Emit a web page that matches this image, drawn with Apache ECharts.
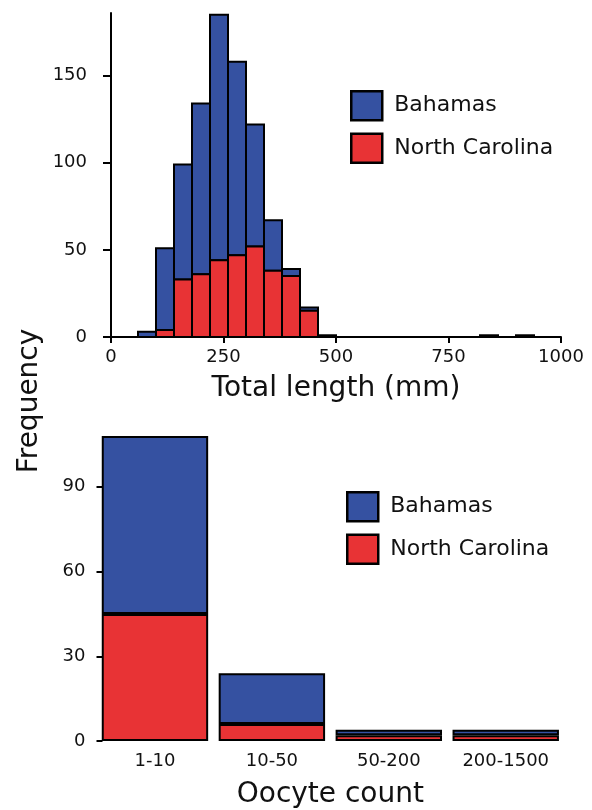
<!DOCTYPE html>
<html>
<head>
<meta charset="utf-8">
<script src="https://cdn.jsdelivr.net/npm/echarts@6/dist/echarts.min.js"></script>
<style>html,body{margin:0;padding:0;background:#fff}#c{width:592px;height:810px}</style>
</head>
<body>
<div id="c"></div>
<script>
// ---- Top histogram: Total length (mm), bins of 40 mm ----
var binStarts = [60, 100, 140, 180, 220, 260, 300, 340, 380, 420, 460, 820, 900];
var binWidth = 40;
var lengthBahamas = [3, 47, 66, 98, 141, 111, 70, 29, 4, 2, 1, 1, 1];
var lengthNC      = [0, 4, 33, 36, 44, 47, 52, 38, 35, 15, 0, 0, 0];
var lengthTicks = [0, 250, 500, 750, 1000];
var freqTicksTop = [0, 50, 100, 150];

// ---- Bottom bar chart: Oocyte count ----
var oocyteCats = ['1-10', '10-50', '50-200', '200-1500'];
var oocyteBahamas = [63, 18, 2, 2];
var oocyteNC      = [45, 6, 2, 2];
var freqTicksBottom = [0, 30, 60, 90];

var BLUE = '#3551a1';
var RED = '#e83335';
var FONT = 'DejaVu Sans';
var TXT = '#111';

// build histogram rect data: [x0, x1, yBase, yTop]
var ncData = [], bhData = [];
for (var i = 0; i < binStarts.length; i++) {
  var x0 = binStarts[i], x1 = binStarts[i] + binWidth;
  if (lengthNC[i] > 0) ncData.push([x0, x1, 0, lengthNC[i]]);
  if (lengthBahamas[i] > 0) bhData.push([x0, x1, lengthNC[i], lengthNC[i] + lengthBahamas[i]]);
}
function makeRender(color) {
  return function (params, api) {
    var p0 = api.coord([api.value(0), api.value(2)]);
    var p1 = api.coord([api.value(1), api.value(3)]);
    return {
      type: 'rect',
      shape: { x: p0[0], y: p1[1], width: p1[0] - p0[0], height: p0[1] - p1[1] },
      style: { fill: color, stroke: '#000', lineWidth: 2 }
    };
  };
}

var chart = echarts.init(document.getElementById('c'), null, { renderer: 'canvas' });
var legendCommon = {
  orient: 'vertical',
  icon: 'rect',
  padding: 0,
  itemWidth: 31,
  itemHeight: 29,
  itemGap: 11,
  itemStyle: { borderColor: '#000', borderWidth: 2.5 },
  textStyle: { fontFamily: FONT, fontSize: 22, color: TXT, padding: [0, 0, 0, 7] },
  data: ['Bahamas', 'North Carolina'],
  selectedMode: false
};
var option = {
  animation: false,
  backgroundColor: '#fff',
  legend: [
    Object.assign({}, legendCommon, { left: 350, top: 90 }),
    Object.assign({}, legendCommon, { left: 346, top: 491 })
  ],
  grid: [
    { left: 111, top: 13, width: 450, height: 324 },
    { left: 96.5, top: 402, right: 27.8, height: 343 }
  ],
  xAxis: [
    {
      type: 'value', gridIndex: 0, min: 0, max: 1000, interval: 250,
      splitLine: { show: false },
      axisLine: { show: true, lineStyle: { color: '#000', width: 2 } },
      axisTick: { show: true, length: 6, lineStyle: { color: '#000', width: 2 } },
      axisLabel: { fontFamily: FONT, fontSize: 18, color: TXT, margin: 11, customValues: lengthTicks,
        formatter: function (v) { return String(v); } },
      name: 'Total length (mm)', nameLocation: 'middle', nameGap: 38,
      nameTextStyle: { fontFamily: FONT, fontSize: 28, color: TXT }
    },
    {
      type: 'category', gridIndex: 1, data: oocyteCats,
      axisLine: { show: false }, axisTick: { show: false },
      axisLabel: { fontFamily: FONT, fontSize: 18, color: TXT, margin: 11 },
      name: 'Oocyte count', nameLocation: 'middle', nameGap: 40,
      nameTextStyle: { fontFamily: FONT, fontSize: 28, color: TXT }
    }
  ],
  yAxis: [
    {
      type: 'value', gridIndex: 0, min: 0, max: 186,
      splitLine: { show: false },
      axisLine: { show: true, lineStyle: { color: '#000', width: 2 } },
      axisTick: { show: true, length: 8, lineStyle: { color: '#000', width: 2 }, customValues: freqTicksTop },
      axisLabel: { fontFamily: FONT, fontSize: 18, color: TXT, margin: 24, customValues: freqTicksTop }
    },
    {
      type: 'value', gridIndex: 1, min: 0, max: 120, interval: 30,
      splitLine: { show: false },
      axisLine: { show: false },
      axisTick: { show: true, inside: true, length: 6, lineStyle: { color: '#000', width: 2 }, customValues: freqTicksBottom },
      axisLabel: { fontFamily: FONT, fontSize: 18, color: TXT, margin: 11, customValues: freqTicksBottom }
    }
  ],
  graphic: [{
    type: 'text', x: 30, y: 401, rotation: Math.PI / 2,
    style: { text: 'Frequency', fontFamily: FONT, fontSize: 28, fill: TXT, align: 'center', verticalAlign: 'middle' }
  }],
  series: [
    {
      name: 'Bahamas', type: 'custom', xAxisIndex: 0, yAxisIndex: 0,
      itemStyle: { color: BLUE },
      encode: { x: [0, 1], y: [2, 3] },
      renderItem: makeRender(BLUE), data: bhData
    },
    {
      name: 'North Carolina', type: 'custom', xAxisIndex: 0, yAxisIndex: 0,
      itemStyle: { color: RED },
      encode: { x: [0, 1], y: [2, 3] },
      renderItem: makeRender(RED), data: ncData
    },
    {
      name: 'North Carolina', type: 'bar', xAxisIndex: 1, yAxisIndex: 1, stack: 'o',
      barCategoryGap: '9%',
      itemStyle: { color: RED, borderColor: '#000', borderWidth: 2 },
      data: oocyteNC
    },
    {
      name: 'Bahamas', type: 'bar', xAxisIndex: 1, yAxisIndex: 1, stack: 'o',
      barCategoryGap: '9%',
      itemStyle: { color: BLUE, borderColor: '#000', borderWidth: 2 },
      data: oocyteBahamas
    }
  ]
};
chart.setOption(option);
</script>
</body>
</html>
